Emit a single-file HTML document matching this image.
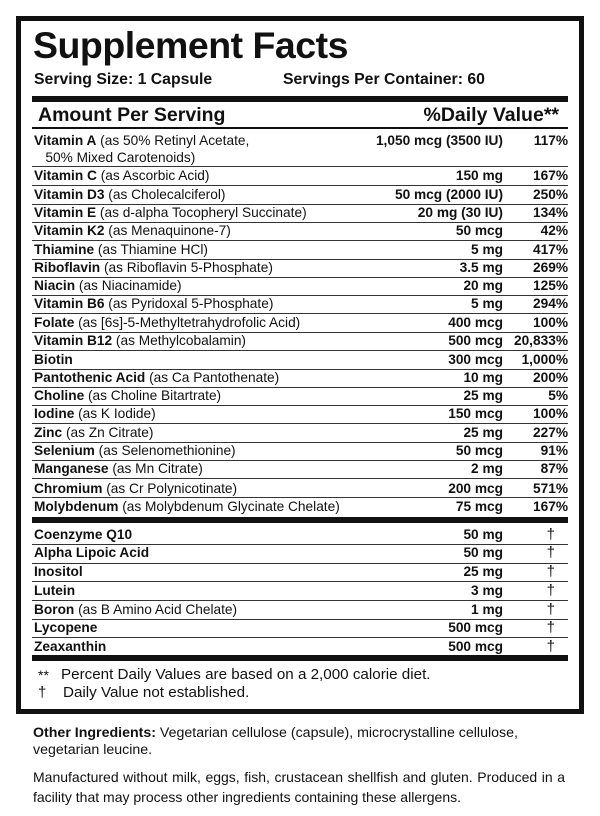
<!DOCTYPE html>
<html><head><meta charset="utf-8"><style>
*{margin:0;padding:0;box-sizing:border-box}
body{width:600px;height:816px;background:#fff;position:relative;font-family:"Liberation Sans",Arial,sans-serif;color:#111;overflow:hidden}
.box{position:absolute;left:16px;top:16px;width:568px;height:698px;border:5px solid #111}
.a{position:absolute;white-space:nowrap}
.r{position:absolute;left:34px;width:534px;height:16px;line-height:16px;font-size:13.7px}
.r .n{position:absolute;left:0}
.r .m{position:absolute;right:65px;font-weight:bold}
.r .p{position:absolute;right:0;font-weight:bold}
.r .d{position:absolute;right:13px;font-size:15px}
b{font-weight:bold}
.hl{position:absolute;left:32px;width:536px;height:1px;background:#333}
.tb{position:absolute;left:32px;width:536px;background:#111}
</style></head><body>
<div class="box"></div>
<div class="a" style="left:33px;top:24px;font-size:37.5px;font-weight:bold;letter-spacing:-0.5px">Supplement Facts</div>
<div class="a" style="left:34px;top:71px;font-size:15.8px;font-weight:bold">Serving Size: 1 Capsule</div>
<div class="a" style="left:283px;top:71px;font-size:15.8px;font-weight:bold">Servings Per Container: 60</div>
<div class="tb" style="top:96px;height:6px"></div>
<div class="a" style="left:38px;top:104px;font-size:19.5px;font-weight:bold">Amount Per Serving</div>
<div class="a" style="right:41px;top:104px;font-size:19.5px;font-weight:bold">%Daily Value**</div>
<div class="tb" style="top:127px;height:2px"></div>

<div class="r" style="top:133px"><span class="n"><b>Vitamin A</b> (as 50% Retinyl Acetate,</span><span class="m">1,050 mcg (3500 IU)</span><span class="p">117%</span></div>
<div class="r" style="top:150px"><span class="n">&nbsp;&nbsp;&nbsp;50% Mixed Carotenoids)</span></div>
<div class="hl" style="top:166px"></div>
<div class="r" style="top:168px"><span class="n"><b>Vitamin C</b> (as Ascorbic Acid)</span><span class="m">150 mg</span><span class="p">167%</span></div>
<div class="hl" style="top:185px"></div>
<div class="r" style="top:187px"><span class="n"><b>Vitamin D3</b> (as Cholecalciferol)</span><span class="m">50 mcg (2000 IU)</span><span class="p">250%</span></div>
<div class="hl" style="top:204px"></div>
<div class="r" style="top:205px"><span class="n"><b>Vitamin E</b> (as d-alpha Tocopheryl Succinate)</span><span class="m">20 mg (30 IU)</span><span class="p">134%</span></div>
<div class="hl" style="top:222px"></div>
<div class="r" style="top:223px"><span class="n"><b>Vitamin K2</b> (as Menaquinone-7)</span><span class="m">50 mcg</span><span class="p">42%</span></div>
<div class="hl" style="top:240px"></div>
<div class="r" style="top:242px"><span class="n"><b>Thiamine</b> (as Thiamine HCl)</span><span class="m">5 mg</span><span class="p">417%</span></div>
<div class="hl" style="top:259px"></div>
<div class="r" style="top:260px"><span class="n"><b>Riboflavin</b> (as Riboflavin 5-Phosphate)</span><span class="m">3.5 mg</span><span class="p">269%</span></div>
<div class="hl" style="top:277px"></div>
<div class="r" style="top:278px"><span class="n"><b>Niacin</b> (as Niacinamide)</span><span class="m">20 mg</span><span class="p">125%</span></div>
<div class="hl" style="top:295px"></div>
<div class="r" style="top:296px"><span class="n"><b>Vitamin B6</b> (as Pyridoxal 5-Phosphate)</span><span class="m">5 mg</span><span class="p">294%</span></div>
<div class="hl" style="top:313px"></div>
<div class="r" style="top:315px"><span class="n"><b>Folate</b> (as [6s]-5-Methyltetrahydrofolic Acid)</span><span class="m">400 mcg</span><span class="p">100%</span></div>
<div class="hl" style="top:332px"></div>
<div class="r" style="top:333px"><span class="n"><b>Vitamin B12</b> (as Methylcobalamin)</span><span class="m">500 mcg</span><span class="p">20,833%</span></div>
<div class="hl" style="top:350px"></div>
<div class="r" style="top:352px"><span class="n"><b>Biotin</b></span><span class="m">300 mcg</span><span class="p">1,000%</span></div>
<div class="hl" style="top:369px"></div>
<div class="r" style="top:370px"><span class="n"><b>Pantothenic Acid</b> (as Ca Pantothenate)</span><span class="m">10 mg</span><span class="p">200%</span></div>
<div class="hl" style="top:387px"></div>
<div class="r" style="top:388px"><span class="n"><b>Choline</b> (as Choline Bitartrate)</span><span class="m">25 mg</span><span class="p">5%</span></div>
<div class="hl" style="top:405px"></div>
<div class="r" style="top:406px"><span class="n"><b>Iodine</b> (as K Iodide)</span><span class="m">150 mcg</span><span class="p">100%</span></div>
<div class="hl" style="top:423px"></div>
<div class="r" style="top:425px"><span class="n"><b>Zinc</b> (as Zn Citrate)</span><span class="m">25 mg</span><span class="p">227%</span></div>
<div class="hl" style="top:442px"></div>
<div class="r" style="top:443px"><span class="n"><b>Selenium</b> (as Selenomethionine)</span><span class="m">50 mcg</span><span class="p">91%</span></div>
<div class="hl" style="top:460px"></div>
<div class="r" style="top:461px"><span class="n"><b>Manganese</b> (as Mn Citrate)</span><span class="m">2 mg</span><span class="p">87%</span></div>
<div class="hl" style="top:478px"></div>
<div class="r" style="top:481px"><span class="n"><b>Chromium</b> (as Cr Polynicotinate)</span><span class="m">200 mcg</span><span class="p">571%</span></div>
<div class="hl" style="top:497px"></div>
<div class="r" style="top:499px"><span class="n"><b>Molybdenum</b> (as Molybdenum Glycinate Chelate)</span><span class="m">75 mcg</span><span class="p">167%</span></div>
<div class="tb" style="top:517px;height:6px"></div>

<div class="r" style="top:527px"><span class="n"><b>Coenzyme Q10</b></span><span class="m">50 mg</span><span class="d">†</span></div>
<div class="hl" style="top:544px"></div>
<div class="r" style="top:545px"><span class="n"><b>Alpha Lipoic Acid</b></span><span class="m">50 mg</span><span class="d">†</span></div>
<div class="hl" style="top:563px"></div>
<div class="r" style="top:564px"><span class="n"><b>Inositol</b></span><span class="m">25 mg</span><span class="d">†</span></div>
<div class="hl" style="top:581px"></div>
<div class="r" style="top:583px"><span class="n"><b>Lutein</b></span><span class="m">3 mg</span><span class="d">†</span></div>
<div class="hl" style="top:600px"></div>
<div class="r" style="top:602px"><span class="n"><b>Boron</b> (as B Amino Acid Chelate)</span><span class="m">1 mg</span><span class="d">†</span></div>
<div class="hl" style="top:619px"></div>
<div class="r" style="top:620px"><span class="n"><b>Lycopene</b></span><span class="m">500 mcg</span><span class="d">†</span></div>
<div class="hl" style="top:637px"></div>
<div class="r" style="top:639px"><span class="n"><b>Zeaxanthin</b></span><span class="m">500 mcg</span><span class="d">†</span></div>
<div class="tb" style="top:655px;height:6px"></div>

<div class="a" style="left:38px;top:667px;font-size:14px">**</div>
<div class="a" style="left:61px;top:666px;font-size:15.2px">Percent Daily Values are based on a 2,000 calorie diet.</div>
<div class="a" style="left:38px;top:684px;font-size:15px">†</div>
<div class="a" style="left:63px;top:684px;font-size:15.2px">Daily Value not established.</div>

<div class="a" style="left:33px;top:725px;font-size:14.2px"><b>Other Ingredients:</b> Vegetarian cellulose (capsule), microcrystalline cellulose,</div>
<div class="a" style="left:33px;top:742px;font-size:14.2px">vegetarian leucine.</div>
<div class="a" style="left:33px;top:769px;width:532px;font-size:14px;text-align:justify;text-align-last:justify;white-space:normal">Manufactured without milk, eggs, fish, crustacean shellfish and gluten. Produced in a</div>
<div class="a" style="left:33px;top:789px;font-size:14px">facility that may process other ingredients containing these allergens.</div>
</body></html>
